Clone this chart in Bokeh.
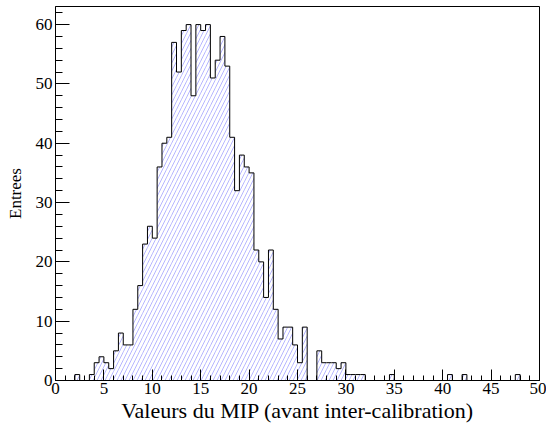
from bokeh.plotting import figure
from bokeh.models import FixedTicker, Range1d
from bokeh.embed import file_html
from bokeh.resources import INLINE

# ---- data (histogram, 100 bins of width 0.5 from 0 to 50) ----
bin_start = 0.0
bin_width = 0.5
counts = [0, 0, 0, 0, 1, 0, 0, 1, 3, 4,
          3, 2, 5, 8, 6, 6, 12, 16, 23, 26,
          24, 36, 40, 41, 57, 52, 59, 60, 48, 60,
          59, 60, 51, 54, 58, 53, 41, 32, 38, 36,
          35, 22, 20, 14, 22, 12, 7, 9, 9, 6,
          3, 9, 0, 0, 5, 3, 3, 3, 2, 3,
          1, 1, 1, 1, 0, 0, 0, 0, 0, 1,
          0, 0, 0, 0, 0, 0, 0, 0, 0, 0,
          0, 1, 0, 0, 1, 0, 0, 0, 0, 0,
          0, 0, 0, 0, 0, 1, 0, 0, 0, 0]
x_major_ticks = [0, 5, 10, 15, 20, 25, 30, 35, 40, 45, 50]
x_minor_ticks = list(range(0, 51))
y_major_ticks = [0, 10, 20, 30, 40, 50, 60]
y_minor_ticks = list(range(0, 63, 2))
x_title = "Valeurs du MIP (avant inter-calibration)"
y_title = "Entrees"

edges = [bin_start + i * bin_width for i in range(len(counts) + 1)]
left = edges[:-1]
right = edges[1:]

FONT = "'Liberation Serif', 'Times New Roman', serif"

p = figure(width=546, height=428, output_backend="svg", toolbar_location=None,
           x_range=Range1d(0, 50), y_range=Range1d(0, 63.05),
           min_border_left=55, min_border_right=7, min_border_top=6,
           min_border_bottom=48)
p.background_fill_color = "white"
p.border_fill_color = "white"
p.outline_line_color = "black"
p.outline_line_width = 1
p.xgrid.visible = False
p.ygrid.visible = False

# hatched fill
p.quad(left=left, right=right, bottom=0, top=counts,
       fill_color=None, line_color=None,
       hatch_pattern="/", hatch_color="#a3a3ff", hatch_scale=8, hatch_weight=0.8)

# outline as step
sx = [edges[0]] + edges
sy = [0] + counts + [0]
p.step(x=sx, y=sy, mode="after", line_color="black", line_width=1)

for ax, maj, mnr, tin, title, tsize in (
        (p.xaxis[0], x_major_ticks, x_minor_ticks, 11, x_title, "22px"),
        (p.yaxis[0], y_major_ticks, y_minor_ticks, 14, y_title, "17px")):
    ax.ticker = FixedTicker(ticks=maj, minor_ticks=mnr)
    ax.major_tick_in = tin
    ax.major_tick_out = 0
    ax.minor_tick_in = tin // 2
    ax.minor_tick_out = 0
    ax.axis_line_color = "black"
    ax.major_tick_line_color = "black"
    ax.minor_tick_line_color = "black"
    ax.major_label_text_font = FONT
    ax.major_label_text_font_size = "17px"
    ax.major_label_text_color = "black"
    ax.axis_label = title
    ax.axis_label_text_font = FONT
    ax.axis_label_text_font_style = "normal"
    ax.axis_label_text_font_size = tsize
    ax.axis_label_text_color = "black"

p.xaxis[0].major_label_standoff = 2
p.xaxis[0].axis_label_standoff = 1
p.yaxis[0].major_label_standoff = 3
p.yaxis[0].axis_label_standoff = 8

open("out.html", "w").write(file_html(p, INLINE))
